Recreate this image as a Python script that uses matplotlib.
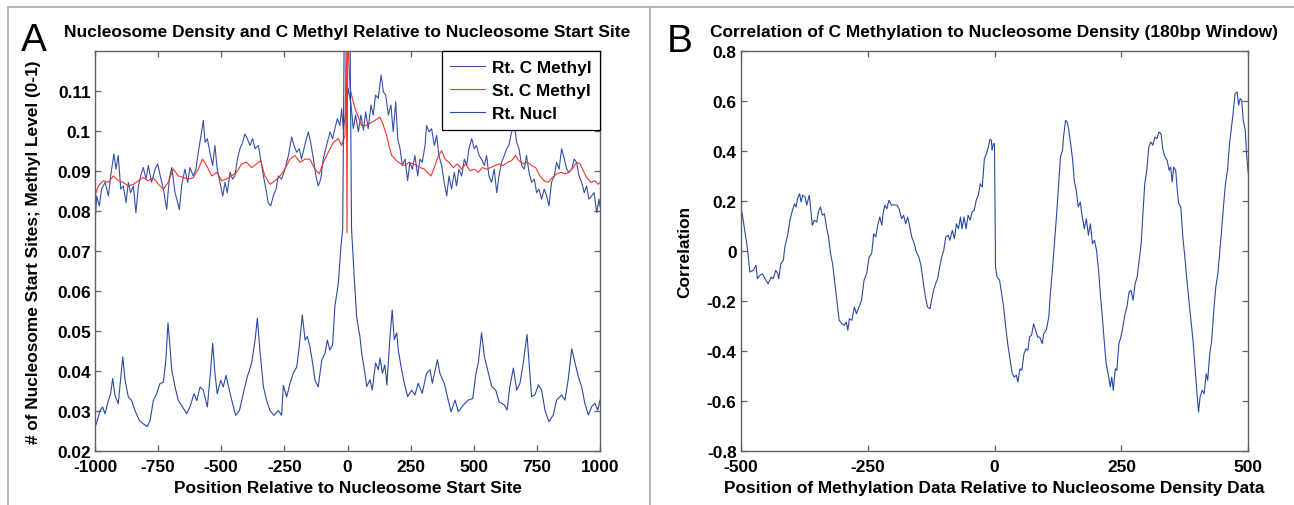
import numpy as np
import matplotlib
matplotlib.use("Agg")
import matplotlib.pyplot as plt
from matplotlib.lines import Line2D

plt.rcParams['font.family'] = ['Liberation Sans', 'DejaVu Sans']
plt.rcParams['axes.unicode_minus'] = False

# ---- panel A data ----
nucl_pos = [-1000, -991, -980, -970, -960, -947, -938, -930, -921, -908, -890, -881, -868, -855, -842,
            -824, -809, -793, -782, -769, -756, -743, -729, -719, -711, -703, -696, -683, -670, -653,
            -637, -624, -608, -597, -584, -571, -555, -542, -534, -525, -516, -502, -492, -481, -468,
            -455, -443, -428, -413, -397, -380, -366, -357, -347, -333, -320, -307, -291, -274, -261,
            -254, -241, -228, -215, -201, -191, -179, -168, -159, -149, -138, -129, -116, -102, -89,
            -80, -70, -59, -50, -36, -27, -19, -13, -6, 0, 5, 10, 16,
            27, 36, 45, 49, 56, 69, 76, 89, 98, 111, 122, 129, 138, 148, 156, 168, 177, 185, 195, 201,
            212, 225, 238, 254, 267, 280, 296, 313, 327, 336, 356, 366, 383, 399, 410, 426, 439, 459,
            478, 496, 509, 518, 531, 542, 558, 571, 587, 600, 621, 632, 643, 657, 670, 683, 696, 711,
            719, 729, 742, 756, 769, 782, 798, 815, 828, 848, 861, 874, 888, 901, 914, 927, 940, 954,
            967, 980, 991, 1000]
nucl_val = [0.0259, 0.0276, 0.0301, 0.0310, 0.0293, 0.0326, 0.0343, 0.0381, 0.0339, 0.0318, 0.0435,
            0.0377, 0.0335, 0.0326, 0.0301, 0.0276, 0.0268, 0.0261, 0.0276, 0.0326, 0.0343, 0.0368,
            0.0372, 0.0431, 0.0520, 0.0461, 0.0402, 0.0360, 0.0326, 0.0310, 0.0293, 0.0310, 0.0343,
            0.0326, 0.0360, 0.0352, 0.0310, 0.0402, 0.0469, 0.0394, 0.0343, 0.0377, 0.0360, 0.0389,
            0.0352, 0.0318, 0.0289, 0.0301, 0.0343, 0.0385, 0.0419, 0.0477, 0.0532, 0.0452, 0.0360,
            0.0326, 0.0301, 0.0289, 0.0301, 0.0289, 0.0364, 0.0335, 0.0368, 0.0394, 0.0410, 0.0461,
            0.0540, 0.0477, 0.0486, 0.0461, 0.0419, 0.0377, 0.0360, 0.0427, 0.0444, 0.0477, 0.0452,
            0.0465, 0.0561, 0.0620, 0.0704, 0.0755, 0.125, 0.150, 0.160, 0.150, 0.125, 0.0755,
            0.0630, 0.0537, 0.0500, 0.0487, 0.0445, 0.0394, 0.0361, 0.0378, 0.0352, 0.0420, 0.0403,
            0.0432, 0.0394, 0.0415, 0.0365, 0.0483, 0.0552, 0.0478, 0.0495, 0.0453, 0.0411, 0.0369,
            0.0336, 0.0352, 0.0340, 0.0369, 0.0344, 0.0394, 0.0403, 0.0369, 0.0428, 0.0394, 0.0369,
            0.0327, 0.0298, 0.0327, 0.0298, 0.0315, 0.0327, 0.0331, 0.0394, 0.0420, 0.0495, 0.0436,
            0.0394, 0.0361, 0.0352, 0.0323, 0.0315, 0.0302, 0.0361, 0.0407, 0.0352, 0.0369, 0.0420,
            0.0491, 0.0420, 0.0336, 0.0340, 0.0365, 0.0352, 0.0302, 0.0273, 0.0290, 0.0327, 0.0340,
            0.0327, 0.0378, 0.0455, 0.0420, 0.0386, 0.0361, 0.0319, 0.0290, 0.0311, 0.0319, 0.0302,
            0.0327]

rt_meth_pos = [-1000, -993, -983, -974, -960, -947, -938, -925, -917, -908, -898, -888, -877, -868,
               -859, -848, -838, -828, -819, -809, -798, -789, -776, -762, -752, -740, -729, -716,
               -706, -696, -683, -674, -666, -657, -644, -633, -624, -611, -600, -591, -580, -571,
               -564, -555, -545, -534, -525, -516, -505, -494, -485, -476, -465, -455, -446, -436,
               -426, -415, -406, -397, -386, -376, -366, -353, -344, -333, -323, -314, -304, -294,
               -283, -274, -261, -248, -234, -221, -212, -201, -191, -182, -168, -155, -146, -135,
               -125, -116, -106, -96, -83, -69, -59, -50, -40, -30, -23, -17, -6, 3,
               14, 23, 32, 43, 53, 63, 72, 82, 93, 102, 111, 122, 133, 142, 151, 162, 172, 181, 191,
               199, 208, 217, 228, 238, 247, 257, 267, 278, 287, 296, 307, 313, 323, 333, 344, 353,
               362, 373, 383, 393, 402, 412, 423, 432, 441, 452, 463, 472, 481, 492, 502, 511, 521,
               531, 542, 551, 560, 571, 581, 591, 600, 610, 621, 630, 639, 650, 661, 670, 679, 690,
               700, 709, 719, 729, 740, 749, 758, 769, 779, 789, 798, 808, 819, 828, 838, 848, 859,
               868, 877, 888, 898, 907, 917, 927, 938, 947, 956, 967, 977, 987, 996, 1000]
rt_meth_val = [0.0770, 0.0837, 0.0812, 0.0854, 0.0871, 0.0837, 0.0887, 0.0942, 0.0904, 0.0938,
               0.0854, 0.0862, 0.0820, 0.0871, 0.0845, 0.0862, 0.0795, 0.0862, 0.0887, 0.0908,
               0.0879, 0.0913, 0.0871, 0.0904, 0.0917, 0.0883, 0.0854, 0.0803, 0.0879, 0.0908,
               0.0845, 0.0824, 0.0803, 0.0862, 0.0904, 0.0871, 0.0908, 0.0887, 0.0904, 0.0946,
               0.0988, 0.1026, 0.0971, 0.0980, 0.0946, 0.0913, 0.0963, 0.0904, 0.0871, 0.0837,
               0.0871, 0.0845, 0.0896, 0.0879, 0.0887, 0.0929, 0.0955, 0.0971, 0.0992, 0.0980,
               0.0963, 0.0980, 0.0955, 0.0963, 0.0929, 0.0887, 0.0854, 0.0820, 0.0812, 0.0837,
               0.0854, 0.0887, 0.0879, 0.0904, 0.0938, 0.0984, 0.0963, 0.0946, 0.0955, 0.0929,
               0.0967, 0.0997, 0.0971, 0.0929, 0.0887, 0.0862, 0.0879, 0.0929, 0.0963, 0.0997,
               0.0980, 0.1005, 0.1030, 0.1013, 0.1055, 0.1005, 0.1047, 0.1106,
               0.1064, 0.1005, 0.1039, 0.0997, 0.1039, 0.1001, 0.1047, 0.1005, 0.1064, 0.1039,
               0.1089, 0.1081, 0.1139, 0.1097, 0.1089, 0.1039, 0.1064, 0.0997, 0.1072, 0.0980,
               0.0955, 0.0913, 0.0929, 0.0875, 0.0921, 0.0904, 0.0938, 0.0887, 0.0929, 0.0921,
               0.0963, 0.1013, 0.0997, 0.1005, 0.0963, 0.0988, 0.0938, 0.0913, 0.0871, 0.0837,
               0.0887, 0.0854, 0.0896, 0.0862, 0.0904, 0.0887, 0.0929, 0.0913, 0.0955, 0.0980,
               0.0955, 0.0963, 0.0938, 0.0929, 0.0913, 0.0938, 0.0887, 0.0871, 0.0904, 0.0845,
               0.0887, 0.0921, 0.0938, 0.0955, 0.0963, 0.0997, 0.1013, 0.0971, 0.0955, 0.0913,
               0.0904, 0.0938, 0.0896, 0.0871, 0.0879, 0.0845, 0.0854, 0.0829, 0.0854, 0.0837,
               0.0812, 0.0871, 0.0887, 0.0921, 0.0904, 0.0955, 0.0929, 0.0904, 0.0896, 0.0904,
               0.0929, 0.0921, 0.0887, 0.0871, 0.0845, 0.0862, 0.0829, 0.0837, 0.0845, 0.0795,
               0.0829, 0.0810]

st_meth_pos = [-1000, -987, -967, -947, -927, -908, -888, -868, -848, -828, -809, -789, -769, -749,
               -729, -710, -690, -670, -650, -630, -611, -591, -574, -558, -538, -518, -498, -479,
               -459, -439, -419, -399, -380, -360, -344, -327, -307, -287, -267, -248, -228, -208,
               -188, -168, -149, -129, -112, -96, -76, -56, -36, -23, -10, -5, -2, 1,
               10, 19, 30, 40, 56, 72, 89, 109, 129, 142, 155, 164, 175, 188, 201, 214, 228, 243,
               261, 274, 287, 304, 317, 331, 344, 360, 373, 386, 402, 419, 436, 452, 468, 485, 502,
               518, 534, 551, 568, 584, 600, 617, 634, 650, 666, 679, 696, 713, 729, 745, 762, 779,
               795, 811, 828, 845, 861, 877, 894, 907, 921, 934, 947, 964, 980, 993, 1000]
st_meth_val = [0.0837, 0.0862, 0.0875, 0.0871, 0.0887, 0.0875, 0.0871, 0.0862, 0.0866, 0.0875,
               0.0883, 0.0875, 0.0883, 0.0866, 0.0854, 0.0871, 0.0904, 0.0887, 0.0883, 0.0879,
               0.0883, 0.0904, 0.0929, 0.0913, 0.0887, 0.0896, 0.0875, 0.0879, 0.0887, 0.0896,
               0.0917, 0.0921, 0.0908, 0.0917, 0.0925, 0.0887, 0.0866, 0.0875, 0.0887, 0.0904,
               0.0929, 0.0938, 0.0921, 0.0929, 0.0929, 0.0904, 0.0892, 0.0921, 0.0946, 0.0971,
               0.0980, 0.0963, 0.0988, 0.125, 0.0745, 0.125,
               0.1106, 0.1081, 0.1055, 0.1039, 0.1013, 0.1013, 0.1018, 0.1026, 0.1034, 0.1013,
               0.0988, 0.0963, 0.0938, 0.0929, 0.0921, 0.0917, 0.0913, 0.0921, 0.0917, 0.0913,
               0.0908, 0.0904, 0.0896, 0.0887, 0.0908, 0.0938, 0.0950, 0.0929, 0.0921, 0.0908,
               0.0917, 0.0904, 0.0917, 0.0900, 0.0904, 0.0896, 0.0908, 0.0904, 0.0908, 0.0913,
               0.0917, 0.0913, 0.0921, 0.0925, 0.0938, 0.0925, 0.0917, 0.0921, 0.0913, 0.0908,
               0.0887, 0.0875, 0.0871, 0.0883, 0.0892, 0.0896, 0.0892, 0.0896, 0.0908, 0.0921,
               0.0917, 0.0900, 0.0883, 0.0871, 0.0875, 0.0866, 0.0870]

a_xticks = [-1000, -750, -500, -250, 0, 250, 500, 750, 1000]
a_yticks = [0.02, 0.03, 0.04, 0.05, 0.06, 0.07, 0.08, 0.09, 0.1, 0.11]
a_ylabels = ['0.02', '0.03', '0.04', '0.05', '0.06', '0.07', '0.08', '0.09', '0.1', '0.11']

# ---- panel B data ----
corr_pos = [-500, -497, -493, -488, -485, -482, -475, -470, -467, -462, -457, -452, -446, -440, -436,
            -431, -427, -425, -421, -416, -413, -407, -403, -398, -394, -391, -388, -384, -381, -378,
            -373, -370, -365, -363, -359, -355, -350, -347, -343, -339, -335, -331, -327, -323, -319,
            -316, -312, -309, -306, -301, -296, -292, -289, -286, -281, -276, -272, -267, -262, -257,
            -252, -247, -242, -238, -234, -230, -226, -222, -219, -216, -212, -208, -203, -197, -192,
            -188, -183, -179, -175, -171, -167, -163, -158, -154, -149, -145, -140, -136, -132, -127,
            -124, -120, -116, -112, -108, -104, -100, -96, -91, -88, -83, -79, -75, -71, -67, -64, -60,
            -56, -52, -48, -44, -40, -36, -32, -28, -24, -20, -16, -12, -9, -6, -5, -2, 0,
            2, 5, 10, 15, 18, 22, 26, 30, 35, 39, 43, 46, 50, 54, 58, 62, 66, 69, 73, 77, 81, 85, 89,
            94, 97, 102, 107, 110, 114, 118, 122, 126, 130, 134, 136, 140, 143, 146, 150, 154, 157,
            161, 165, 169, 173, 177, 181, 185, 189, 193, 197, 201, 205, 209, 213, 216, 220, 225, 228,
            231, 234, 238, 241, 245, 249, 253, 257, 261, 265, 269, 273, 277, 281, 285, 289, 292, 296,
            300, 304, 308, 312, 316, 320, 324, 328, 332, 336, 340, 344, 347, 350, 353, 357, 360, 363,
            367, 371, 375, 379, 383, 387, 391, 395, 399, 402, 405, 409, 413, 417, 420, 424, 428, 432,
            436, 440, 444, 448, 451, 455, 459, 463, 467, 470, 474, 478, 481, 484, 487, 490, 494, 497,
            500]
corr_val = [0.169, 0.149, 0.096, 0.029, -0.024, -0.084, -0.077, -0.057, -0.111, -0.097, -0.091, -0.111,
            -0.131, -0.104, -0.111, -0.077, -0.091, -0.111, -0.051, -0.037, 0.016, 0.069, 0.123, 0.163,
            0.189, 0.176, 0.209, 0.229, 0.196, 0.223, 0.216, 0.183, 0.223, 0.189, 0.103, 0.123, 0.116,
            0.156, 0.176, 0.143, 0.149, 0.096, 0.056, -0.011, -0.051, -0.104, -0.171, -0.224, -0.277,
            -0.291, -0.297, -0.284, -0.317, -0.271, -0.277, -0.224, -0.251, -0.224, -0.197, -0.117,
            -0.091, -0.024, -0.011, 0.069, 0.056, 0.103, 0.136, 0.103, 0.156, 0.183, 0.169, 0.203,
            0.183, 0.185, 0.183, 0.169, 0.129, 0.143, 0.109, 0.136, 0.096, 0.056, 0.029, -0.004,
            -0.024, -0.057, -0.131, -0.184, -0.224, -0.231, -0.197, -0.157, -0.131, -0.111, -0.064,
            -0.024, 0.003, 0.056, 0.063, 0.043, 0.083, 0.049, 0.109, 0.089, 0.136, 0.089, 0.136, 0.089,
            0.143, 0.123, 0.156, 0.163, 0.203, 0.223, 0.269, 0.256, 0.369, 0.389, 0.416, 0.447, 0.443,
            0.403, 0.429, 0.429,
            -0.064, -0.104, -0.117, -0.184, -0.224, -0.304, -0.371, -0.424, -0.491, -0.504, -0.497,
            -0.524, -0.471, -0.477, -0.411, -0.391, -0.397, -0.344, -0.337, -0.291, -0.317, -0.344,
            -0.344, -0.371, -0.331, -0.317, -0.264, -0.171, -0.077, 0.029, 0.136, 0.256, 0.376, 0.403,
            0.456, 0.523, 0.516, 0.489, 0.429, 0.363, 0.283, 0.243, 0.176, 0.196, 0.136, 0.089, 0.129,
            0.063, 0.109, 0.029, 0.043, 0.003, -0.077, -0.184, -0.277, -0.357, -0.451, -0.504, -0.544,
            -0.504, -0.557, -0.471, -0.477, -0.371, -0.344, -0.304, -0.251, -0.224, -0.164, -0.157,
            -0.197, -0.131, -0.104, -0.037, 0.029, 0.136, 0.269, 0.323, 0.416, 0.436, 0.423, 0.456,
            0.449, 0.476, 0.469, 0.403, 0.376, 0.363, 0.323, 0.336, 0.276, 0.336, 0.323, 0.243, 0.189,
            0.176, 0.056, -0.024, -0.117, -0.197, -0.277, -0.357, -0.464, -0.571, -0.644, -0.584,
            -0.557, -0.571, -0.491, -0.517, -0.411, -0.357, -0.237, -0.144, -0.091, 0.003, 0.096,
            0.176, 0.269, 0.323, 0.429, 0.496, 0.549, 0.629, 0.636, 0.583, 0.609, 0.603, 0.523, 0.483,
            0.376, 0.309]

b_xticks = [-500, -250, 0, 250, 500]
b_yticks = [-0.8, -0.6, -0.4, -0.2, 0, 0.2, 0.4, 0.6, 0.8]
b_ylabels = ['-0.8', '-0.6', '-0.4', '-0.2', '0', '0.2', '0.4', '0.6', '0.8']

blue_m = '#3550a8'
blue_n = '#2a49a2'
red = '#f0362a'
fs = 12.4

W, H = 1294, 506
fig = plt.figure(figsize=(W / 100, H / 100), dpi=100)

# gray panel frame
frame = dict(color='#b0b0b0', lw=1.3, transform=fig.transFigure)
fig.add_artist(Line2D([8 / W, 1], [1 - 7.5 / H, 1 - 7.5 / H], **frame))
fig.add_artist(Line2D([8 / W, 8 / W], [0, 1 - 7.5 / H], **frame))
fig.add_artist(Line2D([649.5 / W, 649.5 / W], [0, 1 - 7.5 / H], **frame))

def style(ax):
    for s in ax.spines.values():
        s.set_color('#606060')
        s.set_linewidth(1.0)
    ax.tick_params(direction='in', length=4, width=0.9, color='#606060', top=True, right=True,
                   labelsize=fs, pad=3)
    ax.tick_params(axis='x', pad=6)
    for lab in ax.get_xticklabels() + ax.get_yticklabels():
        lab.set_fontweight('bold')

axA = fig.add_axes([95 / W, 1 - 452 / H, 505 / W, 400 / H])
axA.plot(rt_meth_pos, rt_meth_val, color=blue_m, lw=0.8, label='Rt. C Methyl')
axA.plot(st_meth_pos, st_meth_val, color=red, lw=0.8, label='St. C Methyl')
axA.plot(nucl_pos, nucl_val, color=blue_n, lw=0.8, label='Rt. Nucl')
axA.set_xlim(-1000, 1000)
axA.set_ylim(0.02, 0.1199)
axA.set_xticks(a_xticks)
axA.set_xticklabels([str(t) for t in a_xticks])
axA.set_yticks(a_yticks)
axA.set_yticklabels(a_ylabels)
style(axA)
axA.set_title('Nucleosome Density and C Methyl Relative to Nucleosome Start Site',
              fontsize=12.5, fontweight='bold', pad=11)
axA.set_xlabel('Position Relative to Nucleosome Start Site', fontsize=fs, fontweight='bold')
axA.xaxis.set_label_coords(0.5, -0.072)
axA.set_ylabel('# of Nucleosome Start Sites; Methyl Level (0-1)', fontsize=fs, fontweight='bold')
axA.yaxis.set_label_coords(-54 / 505, 0.5)
leg = axA.legend(loc='upper right', borderaxespad=0, fancybox=False, framealpha=1,
                 edgecolor='black', prop={'size': fs, 'weight': 'bold'},
                 handlelength=2.0, handletextpad=0.4, labelspacing=0.47, borderpad=0.5)
leg.get_frame().set_linewidth(0.9)
fig.text(21 / W, 1 - 51 / H, 'A', fontsize=28, ha='left', va='baseline')

axB = fig.add_axes([740.7 / W, 1 - 452 / H, 507.6 / W, 400 / H])
axB.plot(corr_pos, corr_val, color=blue_n, lw=0.8)
axB.set_xlim(-500, 500)
axB.set_ylim(-0.8, 0.8)
axB.set_xticks(b_xticks)
axB.set_xticklabels([str(t) for t in b_xticks])
axB.set_yticks(b_yticks)
axB.set_yticklabels(b_ylabels)
style(axB)
axB.set_title('Correlation of C Methylation to Nucleosome Density (180bp Window)',
              fontsize=12.5, fontweight='bold', pad=11)
axB.set_xlabel('Position of Methylation Data Relative to Nucleosome Density Data',
               fontsize=fs, fontweight='bold')
axB.xaxis.set_label_coords(0.5, -0.072)
axB.set_ylabel('Correlation', fontsize=fs, fontweight='bold')
axB.yaxis.set_label_coords(-48 / 507.6, 0.5)
fig.text(667 / W, 1 - 52 / H, 'B', fontsize=28, ha='left', va='baseline')

fig.savefig('out.png', dpi=100)
